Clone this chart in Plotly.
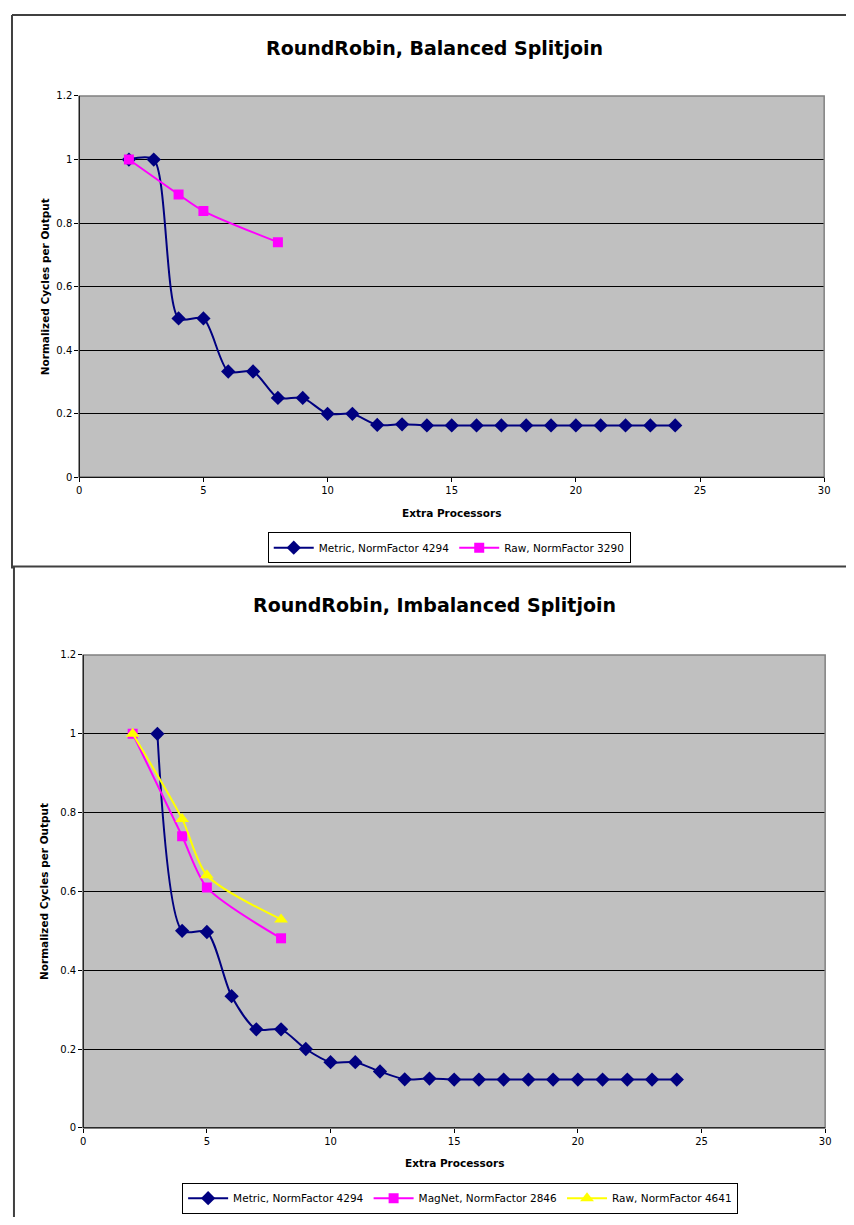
import plotly.graph_objects as go

# the page body keeps its default 8px margin, so the figure is 16px smaller than the window
PAGE_W, PAGE_H = 854, 1225
OFF = 8
W, H = PAGE_W - 2 * OFF, PAGE_H - 2 * OFF

# --- data: balanced splitjoin (top chart)
bal_metric_x = [2, 3, 4, 5, 6, 7, 8, 9, 10, 11, 12, 13, 14, 15, 16, 17, 18, 19, 20, 21, 22, 23, 24]
bal_metric_y = [1.0, 1.0, 0.5, 0.5, 0.333, 0.333, 0.25, 0.25, 0.2, 0.2, 0.165, 0.167,
                0.1635, 0.1635, 0.1635, 0.1635, 0.1635, 0.1635, 0.1635, 0.1635, 0.1635, 0.1635, 0.1635]
bal_raw_x = [2, 4, 5, 8]
bal_raw_y = [1.0, 0.89, 0.838, 0.74]

# --- data: imbalanced splitjoin (bottom chart)
imb_metric_x = [3, 4, 5, 6, 7, 8, 9, 10, 11, 12, 13, 14, 15, 16, 17, 18, 19, 20, 21, 22, 23, 24]
imb_metric_y = [1.0, 0.5, 0.497, 0.334, 0.25, 0.25, 0.2, 0.1665, 0.1667, 0.143, 0.123, 0.125,
                0.1225, 0.1225, 0.1225, 0.1225, 0.1225, 0.1225, 0.1225, 0.1225, 0.1225, 0.1225]
imb_magnet_x = [2, 4, 5, 8]
imb_magnet_y = [1.0, 0.74, 0.61, 0.481]
imb_raw_x = [2, 4, 5, 8]
imb_raw_y = [1.0, 0.784, 0.641, 0.529]

titles = ["RoundRobin, Balanced Splitjoin", "RoundRobin, Imbalanced Splitjoin"]
x_title = "Extra Processors"
y_title = "Normalized Cycles per Output"

NAVY, MAGENTA, YELLOW = "#000080", "#FF00FF", "#FFFF00"
FONT = "DejaVu Sans"


def px_x(p):
    # page pixel -> paper x
    return (p - OFF) / W


def px_y(p):
    # page pixel -> paper y
    return 1 - (p - OFF) / H


def trace(x, y, name, color, symbol, size, xa, ya, legend):
    return go.Scatter(x=x, y=y, name=name, mode="lines+markers",
                      line=dict(color=color, width=2, shape="spline", smoothing=0.75),
                      marker=dict(color=color, symbol=symbol, size=size),
                      xaxis=xa, yaxis=ya, legend=legend, hoverinfo="skip")


fig = go.Figure()
fig.add_trace(trace(bal_metric_x, bal_metric_y, "Metric, NormFactor 4294", NAVY, "diamond", 11, "x", "y", "legend"))
fig.add_trace(trace(bal_raw_x, bal_raw_y, "Raw, NormFactor 3290", MAGENTA, "square", 10, "x", "y", "legend"))
fig.add_trace(trace(imb_metric_x, imb_metric_y, "Metric, NormFactor 4294", NAVY, "diamond", 11, "x2", "y2", "legend2"))
fig.add_trace(trace(imb_magnet_x, imb_magnet_y, "MagNet, NormFactor 2846", MAGENTA, "square", 10, "x2", "y2", "legend2"))
fig.add_trace(trace(imb_raw_x, imb_raw_y, "Raw, NormFactor 4641", YELLOW, "triangle-up", 12, "x2", "y2", "legend2"))

# plot areas in page pixels: (left, right, top, bottom)
boxes = [(77, 830, 90.8, 476), (81, 831, 655.4, 1133)]

xaxis_common = dict(range=[0, 30], dtick=5, tick0=0, showgrid=False, zeroline=False, showline=False,
                    ticks="outside", ticklen=4, tickcolor="black",
                    tickfont=dict(family=FONT, size=10, color="black"))
yaxis_common = dict(range=[0, 1.2], dtick=0.2, tick0=0, showgrid=True, gridcolor="black", gridwidth=1,
                    zeroline=False, showline=False, ticks="outside", ticklen=4, tickcolor="black",
                    tickfont=dict(family=FONT, size=10, color="black"))

(l1, r1, t1, b1), (l2, r2, t2, b2) = boxes
fig.update_layout(
    xaxis=dict(domain=[px_x(l1), px_x(r1)], anchor="y", **xaxis_common),
    yaxis=dict(domain=[px_y(b1), px_y(t1)], anchor="x", **yaxis_common),
    xaxis2=dict(domain=[px_x(l2), px_x(r2)], anchor="y2", **xaxis_common),
    yaxis2=dict(domain=[px_y(b2), px_y(t2)], anchor="x2", **yaxis_common),
)

shapes = []
annotations = []


def frame_line(x0, y0, x1, y1):
    return dict(type="line", xref="paper", yref="paper", x0=px_x(x0), x1=px_x(x1),
                y0=px_y(y0), y1=px_y(y1), line=dict(color="#404040", width=2))


# outer chart frames (they run past the right and bottom edges of the page)
shapes += [frame_line(9, 9, PAGE_W, 9), frame_line(9, 9, 9, 568), frame_line(9, 566, PAGE_W, 566),
           frame_line(11, 566, 11, PAGE_H)]

for i, (l, r, t, b) in enumerate(boxes):
    sfx = "" if i == 0 else "2"
    xd, yd = "x" + sfx + " domain", "y" + sfx + " domain"
    shapes.append(dict(type="rect", xref=xd, yref=yd, x0=0, x1=1, y0=0, y1=1,
                       line=dict(color="#808080", width=1.5), layer="above"))
    shapes.append(dict(type="line", xref=xd, yref=yd, x0=0, x1=0, y0=0, y1=1,
                       line=dict(color="black", width=1), layer="above"))
    shapes.append(dict(type="line", xref=xd, yref=yd, x0=0, x1=1, y0=0, y1=0,
                       line=dict(color="black", width=1), layer="above"))

# titles and axis titles
title_y = [42, 605]
xtitle_y = [512, 1169]
for i, (l, r, t, b) in enumerate(boxes):
    annotations.append(dict(text="<b>%s</b>" % titles[i], xref="paper", yref="paper",
                            x=px_x(436), y=px_y(title_y[i]), showarrow=False,
                            xanchor="center", yanchor="middle",
                            font=dict(family=FONT, size=19, color="black")))
    annotations.append(dict(text="<b>%s</b>" % x_title, xref="paper", yref="paper",
                            x=px_x((l + r) / 2), y=px_y(xtitle_y[i]), showarrow=False,
                            xanchor="center", yanchor="middle",
                            font=dict(family=FONT, size=10.5, color="black")))
    annotations.append(dict(text="<b>%s</b>" % y_title, xref="paper", yref="paper",
                            x=px_x(42), y=px_y((t + b) / 2), showarrow=False, textangle=-90,
                            xanchor="center", yanchor="middle",
                            font=dict(family=FONT, size=10.5, color="black")))

legend_common = dict(orientation="h", bgcolor="white", bordercolor="black", borderwidth=1,
                     font=dict(family=FONT, size=10.5, color="black"),
                     xanchor="center", yanchor="middle", itemwidth=40, tracegroupgap=0)

fig.update_layout(
    width=W, height=H, autosize=False,
    margin=dict(l=0, r=0, t=0, b=0),
    paper_bgcolor="white", plot_bgcolor="#C0C0C0",
    shapes=shapes, annotations=annotations,
    legend=dict(x=px_x(451), y=px_y(547), **legend_common),
    legend2=dict(x=px_x(462), y=px_y(1204), **legend_common),
)

fig.write_html("out.html")
